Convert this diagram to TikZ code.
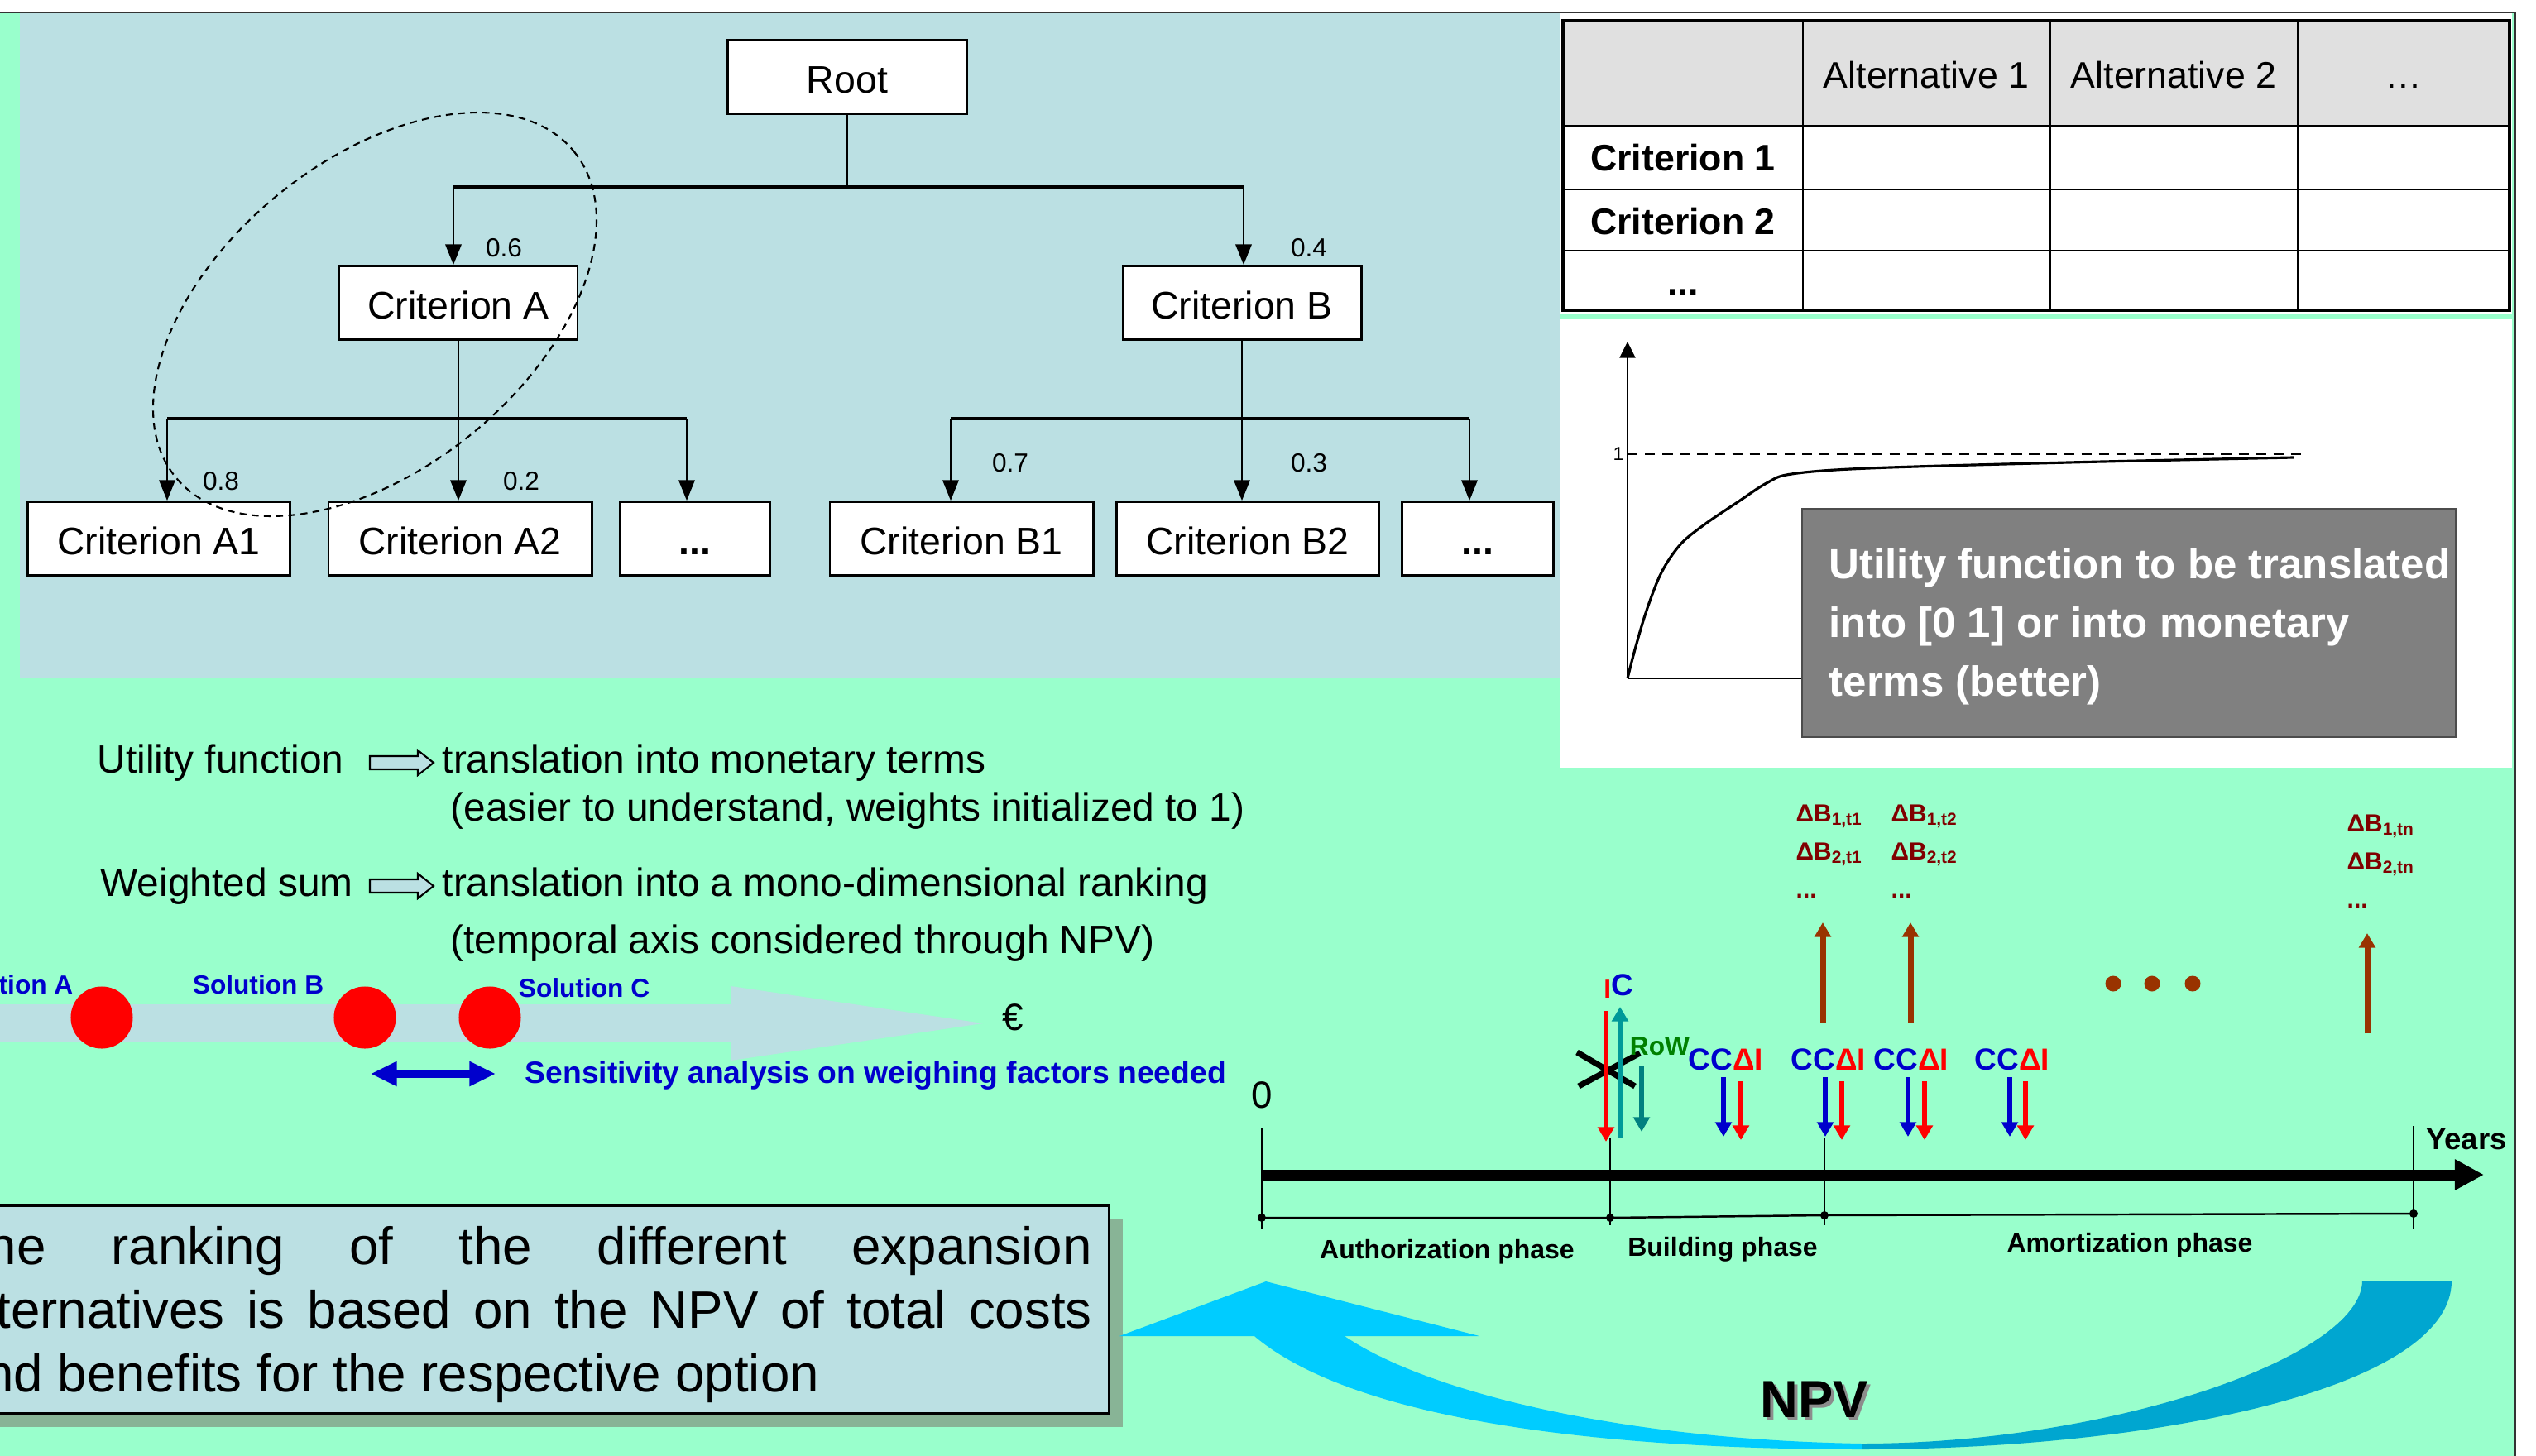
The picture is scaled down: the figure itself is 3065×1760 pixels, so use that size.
\documentclass[tikz,border=0pt]{standalone}
\usepackage{fontspec}
\setmainfont{Liberation Sans}
\usetikzlibrary{arrows.meta}
\definecolor{mint}{RGB}{153,255,204}
\definecolor{paleblue}{RGB}{187,224,227}
\definecolor{headgray}{RGB}{224,224,224}
\definecolor{boxgray}{RGB}{128,128,128}
\definecolor{solblue}{RGB}{0,0,204}
\definecolor{icred}{RGB}{255,0,0}
\definecolor{rowteal}{RGB}{0,153,153}
\definecolor{rowdark}{RGB}{0,128,128}
\definecolor{rowgreen}{RGB}{0,128,0}
\definecolor{benbrown}{RGB}{153,51,0}
\definecolor{bendark}{RGB}{128,0,0}
\definecolor{npvcyan}{RGB}{0,204,255}
\definecolor{npvdeep}{RGB}{0,166,208}
\definecolor{shadowgreen}{RGB}{136,180,150}
\hyphenpenalty=10000
\exhyphenpenalty=10000

\begin{document}
\begin{tikzpicture}[x=0.01cm,y=-0.01cm,
    treebox/.style={draw,line width=0.8pt,fill=white,font=\fontsize{13.2}{15}\selectfont,text height=12pt,text depth=0.7pt,minimum height=0.89cm,inner sep=0pt},
    weight/.style={font=\fontsize{9}{10}\selectfont,inner sep=0pt},
    treearrow/.style={-{Triangle[width=5.5pt,length=7pt]},line width=0.6pt},
    midtext/.style={anchor=base west,font=\fontsize{13.6}{16}\selectfont,inner sep=0pt},
    cellhead/.style={anchor=base,font=\fontsize{12.7}{15}\selectfont,inner sep=0pt},
    cellrow/.style={anchor=base,font=\bfseries\fontsize{12.7}{15}\selectfont,inner sep=0pt},
    sollabel/.style={text=solblue,font=\bfseries\fontsize{9}{10}\selectfont,inner sep=0pt},
    phase/.style={font=\bfseries\fontsize{9.1}{10}\selectfont,inner sep=0pt},
    flow/.style={line width=1.8pt,-{Triangle[width=5.5pt,length=5pt]}},
    costlabel/.style={anchor=base,font=\bfseries\fontsize{10.5}{12}\selectfont,inner sep=0pt},
    benefit/.style={anchor=base west,text=bendark,font=\bfseries\fontsize{8.5}{10}\selectfont,inner sep=0pt}]
    \useasboundingbox (0,0) rectangle (3065,1760);
    \clip (0,0) rectangle (3065,1760);
    \fill[white] (0,0) rectangle (3065,1760);
    \fill[mint] (0,16) rectangle (3039,1760);
    \draw[line width=0.6pt,black!80] (0,15) -- (3040,15) -- (3040,1760);
    \fill[paleblue] (24,16) rectangle (1886,820);
    \fill[white] (1886,16) rectangle (3036,380);
    \fill[white] (1886,385) rectangle (3036,928);

    \node (root) at (1024,93) [treebox,minimum width=2.89cm] {Root};
    \node (critA) at (554,366) [treebox,minimum width=2.88cm] {Criterion A};
    \node (critB) at (1501,366) [treebox,minimum width=2.88cm] {Criterion B};
    \node (critA1) at (192,651) [treebox,minimum width=3.17cm] {Criterion A1};
    \node (critA2) at (556,651) [treebox,minimum width=3.18cm] {Criterion A2};
    \node (critAx) at (840,651) [treebox,minimum width=1.82cm,font=\bfseries\fontsize{13.2}{15}\selectfont] {...};
    \node (critB1) at (1162,651) [treebox,minimum width=3.18cm] {Criterion B1};
    \node (critB2) at (1508,651) [treebox,minimum width=3.17cm] {Criterion B2};
    \node (critBx) at (1786,651) [treebox,minimum width=1.83cm,font=\bfseries\fontsize{13.2}{15}\selectfont] {...};
    \coordinate (topl) at (548,226);
    \coordinate (topr) at (1503,226);
    \coordinate (barAl) at (202,506);
    \coordinate (barAr) at (830,506);
    \coordinate (barBl) at (1149,506);
    \coordinate (barBr) at (1776,506);
    \draw[line width=0.6pt] (root.south) -- (root.south |- topl);
    \draw[line width=0.9pt] (topl) -- (topr);
    \draw[line width=0.9pt] (barAl) -- (barAr);
    \draw[line width=0.9pt] (barBl) -- (barBr);
    \draw[treearrow] (topl) -- (topl |- critA.north);
    \draw[treearrow] (topr) -- (topr |- critB.north);
    \draw[treearrow] (critA.south) -- (critA.south |- critA2.north);
    \draw[treearrow] (critB.south) -- (critB.south |- critB2.north);
    \draw[treearrow] (barAl) -- (barAl |- critA1.north);
    \draw[treearrow] (barAr) -- (barAr |- critAx.north);
    \draw[treearrow] (barBl) -- (barBl |- critB1.north);
    \draw[treearrow] (barBr) -- (barBr |- critBx.north);
    \node (wA) at (609,300) [weight] {0.6};
    \node (wB) at (1582,300) [weight] {0.4};
    \node (wA1) at (267,582) [weight] {0.8};
    \node (wA2) at (630,582) [weight] {0.2};
    \node (wB1) at (1221,560) [weight] {0.7};
    \node (wB2) at (1582,560) [weight] {0.3};
    \draw[dash pattern=on 2.4pt off 1.8pt,line width=0.6pt,rotate around={39.3:(453,380)}] (453,380) ellipse [x radius=311,y radius=186];

    \fill[headgray] (1889,25) rectangle (3033,152);
    \fill[white] (1889,152) rectangle (3033,375);
    \foreach \y in {152,229,303}
        \draw[line width=0.6pt] (1889,\y) -- (3033,\y);
    \foreach \x in {2179,2478,2777}
        \draw[line width=0.6pt] (\x,25) -- (\x,375);
    \draw[line width=1.3pt] (1889,25) rectangle (3033,375);
    \node (alt1) at (2328,106) [cellhead] {Alternative 1};
    \node (alt2) at (2627,106) [cellhead] {Alternative 2};
    \node (altx) at (2905,106) [cellhead] {\dots};
    \node (crit1) at (2034,206) [cellrow] {Criterion 1};
    \node (crit2) at (2034,283) [cellrow] {Criterion 2};
    \node (critx) at (2034,356) [cellrow] {...};

    \draw[line width=0.6pt,-{Triangle[width=5.4pt,length=5.6pt]}] (1967,820) -- (1967,413);
    \draw[line width=0.6pt] (1967,820) -- (2179,820);
    \draw[line width=0.6pt,dash pattern=on 3.5pt off 2.5pt] (1967,549) -- (2785,549);
    \node (one) at (1963,549) [anchor=east,inner sep=0pt,font=\fontsize{6.5}{7}\selectfont] {1};
    \draw[line width=0.9pt] plot[smooth,tension=0.55] coordinates {(1967,820) (1976,785) (1990,738) (2008,692) (2031,658) (2060,634) (2100,607) (2135,584) (2165,573) (2258,566) (2500,559) (2772,553)};
    \node (utilbox) at (2573,753) [fill=boxgray,draw=black!70,line width=0.6pt,minimum width=7.89cm,minimum height=2.76cm] {};
    \node (utiltext) at (2210,757) [anchor=west,inner sep=0pt,text=white,align=left,font=\bfseries\fontsize{14.5}{20.2}\selectfont] {Utility function to be translated\\into [0 1] or into monetary\\terms (better)};

    \node (uf) at (117,934) [midtext] {Utility function};
    \node (ufa) at (534,934) [midtext] {translation into monetary terms};
    \node (ufb) at (544,992) [midtext] {(easier to understand, weights initialized to 1)};
    \node (ws) at (121,1083) [midtext] {Weighted sum};
    \node (wsa) at (534,1083) [midtext] {translation into a mono-dimensional ranking};
    \node (wsb) at (544,1152) [midtext] {(temporal axis considered through NPV)};
    \foreach \y in {922,1071}
        \draw[fill=paleblue,line width=0.6pt] (447,\y-8) -- (505,\y-8) -- (505,\y-15) -- (524,\y) -- (505,\y+15) -- (505,\y+8) -- (447,\y+8) -- cycle;

    \fill[paleblue] (-10,1214) -- (883,1214) -- (883,1192) -- (1188,1237) -- (883,1282) -- (883,1259) -- (-10,1259) -- cycle;
    \foreach \x in {123,441,592}
        \fill[red] (\x,1230) circle [radius=0.375cm];
    \node (solA) at (89,1190) [sollabel,anchor=east] {Solution A};
    \node (solB) at (312,1190) [sollabel] {Solution B};
    \node (solC) at (706,1194) [sollabel] {Solution C};
    \node (euro) at (1224,1230) [font=\fontsize{13}{15}\selectfont] {€};
    \coordinate (sensl) at (448,1298);
    \coordinate (sensr) at (599,1298);
    \draw[solblue,line width=2.8pt,{Triangle[width=8pt,length=9pt]}-{Triangle[width=8pt,length=9pt]}] (sensl) -- (sensr);
    \node (sens) at (634,1300) [anchor=west,text=solblue,font=\bfseries\fontsize{10.6}{12}\selectfont,inner sep=0pt] {Sensitivity analysis on weighing factors needed};

    \fill[shadowgreen] (-47,1473) rectangle (1357,1725);
    \node (rankbox) at (638,1583) [draw,line width=1pt,fill=paleblue,minimum width=14.04cm,minimum height=2.52cm] {};
    \node (ranking) at (633,1589) [text width=13.73cm,inner sep=0pt,align=justify,font=\fontsize{18.1}{21.8}\selectfont] {The ranking of the different expansion\linebreak alternatives is based on the NPV of total costs\linebreak and benefits for the respective option};

    \fill[npvcyan] (1516,1615) .. controls (1640,1720) and (1950,1752) .. (2250,1752) -- (2250,1745) .. controls (1950,1740) and (1720,1680) .. (1625,1615) -- (1788,1615) -- (1530,1549) -- (1353,1615) -- cycle;
    \fill[npvdeep] (2250,1752) .. controls (2600,1752) and (2963,1680) .. (2963,1548) -- (2855,1548) .. controls (2855,1640) and (2550,1745) .. (2250,1745) -- cycle;
    \node (npvsh) at (2197,1696) [text=black!45,font=\bfseries\fontsize{18}{20}\selectfont] {NPV};
    \node (npv) at (2193,1692) [font=\bfseries\fontsize{18}{20}\selectfont] {NPV};

    \node (zero) at (1525,1324) [font=\fontsize{13}{15}\selectfont] {0};
    \coordinate (t0) at (1525,1420);
    \coordinate (tend) at (3002,1420);
    \foreach \x/\a/\b in {1525/1364/1486,1946/1375/1481,2205/1375/1481,2917/1361/1485}
        \draw[line width=0.5pt] (\x,\a) -- (\x,\b);
    \draw[line width=3.7pt,-{Triangle[width=10pt,length=10pt]}] (t0) -- (tend);
    \foreach \n/\x/\y in {0/1525/1472,1/1946/1472,2/2205/1469,3/2917/1467}
    {
        \coordinate (ph\n) at (\x,\y);
        \fill (ph\n) circle [radius=0.05cm];
    }
    \draw[line width=0.7pt] (ph0) -- (ph1) -- (ph2) -- (ph3);
    \node (auth) at (1749,1513) [phase] {Authorization phase};
    \node (build) at (2082,1510) [phase] {Building phase};
    \node (amort) at (2574,1505) [phase] {Amortization phase};
    \node (years) at (2981,1377) [font=\bfseries\fontsize{10.4}{12}\selectfont,inner sep=0pt] {Years};

    \draw[line width=2pt] (1906,1272) -- (1976,1313) (1908,1313) -- (1982,1273);
    \draw[flow,icred] (1941,1222) -- (1941,1380);
    \draw[flow,rowteal] (1958,1375) -- (1958,1217);
    \draw[flow,rowdark] (1984,1288) -- (1984,1368);
    \node (ic) at (1956,1203) [costlabel] {\textcolor{icred}{\raisebox{-1.1pt}{\fontsize{9}{9}\selectfont I}}\textcolor{solblue}{C}};
    \node (row) at (2006,1265) [text=rowgreen,font=\bfseries\fontsize{9}{10}\selectfont,inner sep=0pt] {RoW};
    \foreach \cx/\bx/\rx [count=\i] in {2086/2083/2104,2210/2206/2226,2310/2306/2326,2432/2429/2448}
    {
        \node (cost\i) at (\cx,1293) [costlabel] {\textcolor{solblue}{CC}\textcolor{icred}{ΔI}};
        \draw[flow,solblue] (\bx,1302) -- (\bx,1374);
        \draw[flow,icred] (\rx,1307) -- (\rx,1378);
    }
    \foreach \x/\y in {2203/1236,2309/1236,2861/1249}
        \draw[flow,benbrown,line width=2pt] (\x,\y) -- (\x,\y-121);
    \foreach \x in {2554,2601,2650}
        \fill[benbrown] (\x,1189) circle [radius=0.095cm];
    \foreach \x/\y/\t [count=\i] in {2170/993/t1,2285/993/t2,2836/1005/tn}
    {
        \node (benA\i) at (\x,\y) [benefit] {ΔB\textsubscript{1,\t}};
        \node (benB\i) at (\x,\y+46) [benefit] {ΔB\textsubscript{2,\t}};
        \node (benC\i) at (\x,\y+92) [benefit] {...};
    }
\end{tikzpicture}
\end{document}
